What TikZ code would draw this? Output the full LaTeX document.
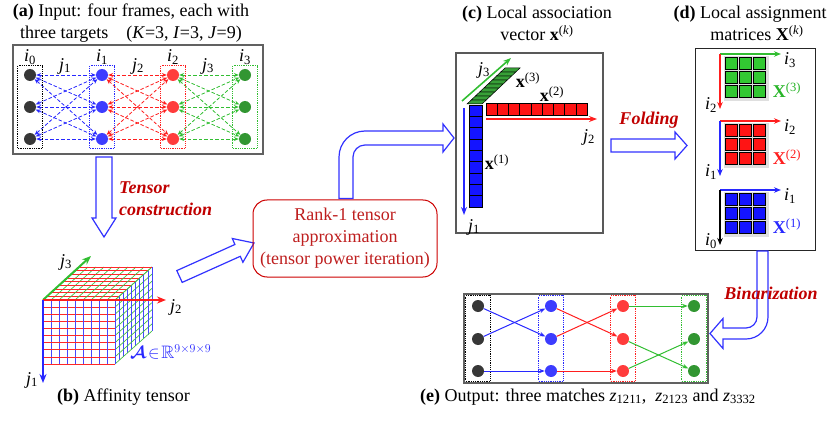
\documentclass[tikz,border=0pt]{standalone}
\usepackage{fontspec}
\setmainfont{Liberation Serif}
\usepackage{amsmath,amssymb}
\usetikzlibrary{arrows.meta,fit,calc}
\definecolor{cblue}{RGB}{40,40,255}
\definecolor{cred}{RGB}{255,30,30}
\definecolor{cgreen}{RGB}{50,190,50}
\definecolor{ndark}{RGB}{55,55,55}
\definecolor{nblue}{RGB}{60,60,255}
\definecolor{nred}{RGB}{255,60,60}
\definecolor{ngreen}{RGB}{50,150,50}
\definecolor{gridb}{RGB}{70,70,255}
\definecolor{gridr}{RGB}{255,40,40}
\definecolor{gridg}{RGB}{70,190,70}
\definecolor{cellb}{RGB}{20,20,255}
\definecolor{cellr}{RGB}{255,20,20}
\definecolor{cellg}{RGB}{50,200,50}
\definecolor{cellgd}{RGB}{55,160,55}
\definecolor{xgreen}{RGB}{40,180,40}
\definecolor{dred}{RGB}{192,0,0}
\definecolor{bred}{RGB}{190,30,30}
\definecolor{hblue}{RGB}{50,50,255}
\newcommand\myfs{\fontsize{18pt}{22pt}\selectfont}
\begin{document}
\begin{tikzpicture}[x=1pt,y=-1pt,
  txt/.style={font=\myfs, inner sep=0pt},
  act/.style={font=\myfs\bfseries\itshape, text=dred, inner sep=0pt},
  dot/.style={circle, minimum size=12pt, inner sep=0pt},
  colbox/.style={draw, densely dotted, line width=0.8pt, inner xsep=6pt, inner ysep=3pt},
  dedge/.style={dashed, dash pattern=on 3.5pt off 2pt, line width=0.8pt, <->, >={Stealth[length=5pt,width=4pt]}},
  sedge/.style={line width=1pt, ->, >={Stealth[length=6pt,width=4.5pt]}},
  hollow/.style={draw=hblue, line width=1.2pt, fill=white, line join=miter},
  bigaxis/.style={line width=2pt, ->, >={Stealth[length=9pt,width=7pt]}},
  caxis/.style={line width=1.6pt, ->, >={Stealth[length=8pt,width=6pt]}},
  daxis/.style={line width=1.5pt, ->, >={Stealth[length=7pt,width=5.5pt]}},
  gline/.style={line width=0.7pt},
  outerbox/.style={draw=black!62, line width=1.8pt}
]
\useasboundingbox (0,0) rectangle (832,422);

% ---------------- (a) ----------------
\node[txt, align=center] (ta) at (131,23.5) {\textbf{(a)} Input: four frames, each with\\three targets\quad(\textit{K}=3, \textit{I}=3, \textit{J}=9)};
\draw[outerbox] (13,45) rectangle (263,154);
\foreach \c/\x/\col in {0/30/ndark,1/102/nblue,2/173/nred,3/245/ngreen}
  \foreach \r/\y in {0/75,1/107,2/139}
    \node[dot, fill=\col] (a\c\r) at (\x,\y) {};
\foreach \c/\n/\col in {0/1/cblue,1/2/cred,2/3/cgreen}
  \foreach \r in {0,1,2}
    \foreach \s in {0,1,2}
      \draw[dedge, \col] (a\c\r) -- (a\n\s);
\node[colbox, draw=black, fit=(a00)(a02)] (fa0) {};
\node[colbox, draw=cblue, fit=(a10)(a12)] (fa1) {};
\node[colbox, draw=cred, fit=(a20)(a22)] (fa2) {};
\node[colbox, draw=cgreen, fit=(a30)(a32)] (fa3) {};
\node[txt] (li0) at (30,57) {\textit{i}\textsubscript{0}};
\node[txt] (li1) at (102,57) {\textit{i}\textsubscript{1}};
\node[txt] (li2) at (173,57) {\textit{i}\textsubscript{2}};
\node[txt] (li3) at (245,57) {\textit{i}\textsubscript{3}};
\node[txt] (lj1) at (65,66) {\textit{j}\textsubscript{1}};
\node[txt] (lj2) at (138,66) {\textit{j}\textsubscript{2}};
\node[txt] (lj3) at (208,66) {\textit{j}\textsubscript{3}};

% tensor construction arrow
\draw[hollow] (96,157) -- (112,157) -- (112,218) -- (116,218) -- (104,237) -- (92,218) -- (96,218) -- cycle;
\node[act, align=left, anchor=west] (tc) at (119,198.5) {Tensor\\construction};

% ---------------- (b) cube ----------------
\foreach \i in {0,...,9}{
  \pgfmathsetmacro\cFx{43+8*\i}
  \pgfmathsetmacro\cFy{300+64*\i/9}
  \pgfmathsetmacro\cTx{43+37*\i/9}
  \pgfmathsetmacro\cTy{300-33*\i/9}
  \pgfmathsetmacro\cRx{115+37*\i/9}
  \pgfmathsetmacro\cTxe{\cTx+72}
  \pgfmathsetmacro\cFxe{\cFx+37}
  \pgfmathsetmacro\cRye{\cTy+64}
  \pgfmathsetmacro\cFye{\cFy-33}
  \draw[gline, gridg] (\cFx,300) -- (\cFxe,267);
  \draw[gline, gridg] (115,\cFy) -- (152,\cFye);
  \draw[gline, gridr] (\cTx,\cTy) -- (\cTxe,\cTy);
  \draw[gline, gridb] (\cRx,\cTy) -- (\cRx,\cRye);
  \draw[gline, gridr] (43,\cFy) -- (115,\cFy);
  \draw[gline, gridb, line width=1pt] (\cFx,300) -- (\cFx,364);
}
\coordinate (o) at (43,300);
\coordinate (bj1) at (43,383);
\coordinate (bj2) at (166,300);
\coordinate (bj3) at (91,256);
\draw[bigaxis, cgreen] (o) -- (bj3);
\draw[bigaxis, cred] (o) -- (bj2);
\draw[bigaxis, cblue] (o) -- (bj1);
\node[txt] (bl3) at (66,262) {\textit{j}\textsubscript{3}};
\node[txt] (bl2) at (176,307) {\textit{j}\textsubscript{2}};
\node[txt] (bl1) at (32,380) {\textit{j}\textsubscript{1}};
\node[txt, text=cblue, anchor=west] (bA) at (130,352) {$\boldsymbol{\mathcal{A}}\!\in\!\mathbb{R}^{9\times 9\times 9}$};
\node[txt] (tb) at (123.5,397) {\textbf{(b)} Affinity tensor};

% arrow cube -> rank-1 box
\draw[hollow] (182.2,282.4) -- (176.8,270.6) -- (234.9,244.5) -- (232.3,238.5) -- (254,243) -- (242.9,262.3) -- (240.3,256.3) -- cycle;

% rank-1 box
\node[draw=red!80!black, line width=1pt, rounded corners=14pt, minimum width=184pt, minimum height=77pt, align=center, font=\myfs, text=bred, inner sep=0pt] (rank) at (345,238.5) {Rank-1 tensor\\approximation\\(tensor power iteration)};

% bent arrow rank -> (c)
\draw[hollow] (339,198.5) -- (339,157) .. controls (339,142.6) and (350.6,131) .. (365,131) -- (443,131) -- (443,124) -- (454,138) -- (443,152) -- (443,145) -- (365,145) .. controls (358.4,145) and (353,150.4) .. (353,157) -- (353,198.5) -- cycle;

% ---------------- (c) ----------------
\node[txt, align=center] (tcap) at (537,23.5) {\textbf{(c)} Local association\\vector \textbf{x}\textsuperscript{(\textit{k})}};
\draw[draw=black!65, line width=1.3pt] (456,53) rectangle (603,233);
\foreach \k in {0,...,8}{
  \pgfmathsetmacro\ya{105+\k*102/9}
  \pgfmathsetmacro\yb{105+(\k+1)*102/9}
  \draw[fill=cellb, line width=0.5pt] (469,\ya) rectangle (482,\yb);
  \pgfmathsetmacro\xa{486+\k*101/9}
  \pgfmathsetmacro\xb{486+(\k+1)*101/9}
  \draw[fill=cellr, line width=0.5pt] (\xa,103) rectangle (\xb,115);
  \pgfmathsetmacro\gxa{467+38*\k/9}
  \pgfmathsetmacro\gya{104-36*\k/9}
  \pgfmathsetmacro\gxb{467+38*(\k+1)/9}
  \pgfmathsetmacro\gyb{104-36*(\k+1)/9}
  \pgfmathsetmacro\gxc{\gxb+15}
  \draw[fill=cellgd, line width=0.5pt] (\gxa,\gya) -- ++(15,0) -- (\gxc,\gyb) -- (\gxb,\gyb) -- cycle;
}
\coordinate (co) at (462,101);
\coordinate (cj3e) at (511,58);
\coordinate (cj2s) at (486,119);
\coordinate (cj2e) at (597,119);
\coordinate (cj1s) at (464,108);
\coordinate (cj1e) at (464,215);
\draw[caxis, cgreen] (co) -- (cj3e);
\draw[caxis, cred] (cj2s) -- (cj2e);
\draw[caxis, cblue] (cj1s) -- (cj1e);
\node[txt] (cl3) at (484,70) {\textit{j}\textsubscript{3}};
\node[txt] (cx3) at (528,80) {\textbf{x}\textsuperscript{(3)}};
\node[txt] (cx2) at (552,94) {\textbf{x}\textsuperscript{(2)}};
\node[txt] (cl2) at (589,137) {\textit{j}\textsubscript{2}};
\node[txt] (cx1) at (497,162) {\textbf{x}\textsuperscript{(1)}};
\node[txt] (cl1) at (474,227) {\textit{j}\textsubscript{1}};

% folding arrow
\draw[hollow] (611,139) -- (675,139) -- (675,132) -- (687,145.5) -- (675,159) -- (675,152) -- (611,152) -- cycle;
\node[act] (fold) at (649,120) {Folding};

% ---------------- (d) ----------------
\node[txt, align=center] (td) at (750,23.5) {\textbf{(d)} Local assignment\\\hspace*{14pt}matrices \textbf{X}\textsuperscript{(\textit{k})}};
\draw[black!85, line width=1pt] (695,49) rectangle (815,250);
\foreach \y/\fc/\hc/\vc/\hl/\vl/\xc in {54/cellg/cgreen/cred/3/2/xgreen, 121/cellr/cred/cblue/2/1/cred, 190/cellb/cblue/black/1/0/cblue}{
  \fill[gray!25] (724,\y+2) rectangle (768.6,\y+46.6);
  \foreach \r in {0,1,2}
    \foreach \c in {0,1,2}
      \draw[fill=\fc, line width=0.6pt] (725+14.3*\c,\y+3+14.3*\r) rectangle ++(12,12);
  \draw[daxis, \hc] (720,\y) -- (781,\y);
  \draw[daxis, \vc] (720,\y) -- (720,\y+55);
  \node[txt] (dh\hl) at (790,\y+6) {\textit{i}\textsubscript{\hl}};
  \node[txt] (dv\vl) at (711,\y+51) {\textit{i}\textsubscript{\vl}};
  \node[txt, text=\xc] (dX\hl) at (787,\y+36) {\textbf{X}\textsuperscript{(\hl)}};
}

% binarization arrow
\draw[hollow] (757,251) -- (768,251) -- (768,317) .. controls (768,329.2) and (758.2,339) .. (746,339) -- (723,339) -- (723,348.5) -- (710,333.5) -- (723,318.5) -- (723,328) -- (746,328) .. controls (752.1,328) and (757,323.1) .. (757,317) -- cycle;
\node[act] (bin) at (771,293) {Binarization};

% ---------------- (e) ----------------
\draw[outerbox] (464,294) rectangle (708,383);
\foreach \c/\x/\col in {0/478/ndark,1/551/nblue,2/623/nred,3/694/ngreen}
  \foreach \r/\y in {0/306,1/339,2/371}
    \node[dot, fill=\col] (e\c\r) at (\x,\y) {};
\node[colbox, draw=black, fit=(e00)(e02), inner ysep=4pt] (fe0) {};
\node[colbox, draw=cblue, fit=(e10)(e12), inner ysep=4pt] (fe1) {};
\node[colbox, draw=cred, fit=(e20)(e22), inner ysep=4pt] (fe2) {};
\node[colbox, draw=cgreen, fit=(e30)(e32), inner ysep=4pt] (fe3) {};
\draw[sedge, cblue] (e00) -- (e11);
\draw[sedge, cblue] (e01) -- (e10);
\draw[sedge, cblue] (e02) -- (e12);
\draw[sedge, cred] (e10) -- (e21);
\draw[sedge, cred] (e11) -- (e20);
\draw[sedge, cred] (e12) -- (e22);
\draw[sedge, cgreen] (e20) -- (e30);
\draw[sedge, cgreen] (e21) -- (e32);
\draw[sedge, cgreen] (e22) -- (e31);
\node[txt] (te) at (588,397) {\textbf{(e)} Output: three matches \textit{z}\textsubscript{1211},\ \ \textit{z}\textsubscript{2123} and \textit{z}\textsubscript{3332}};
\end{tikzpicture}
\end{document}
